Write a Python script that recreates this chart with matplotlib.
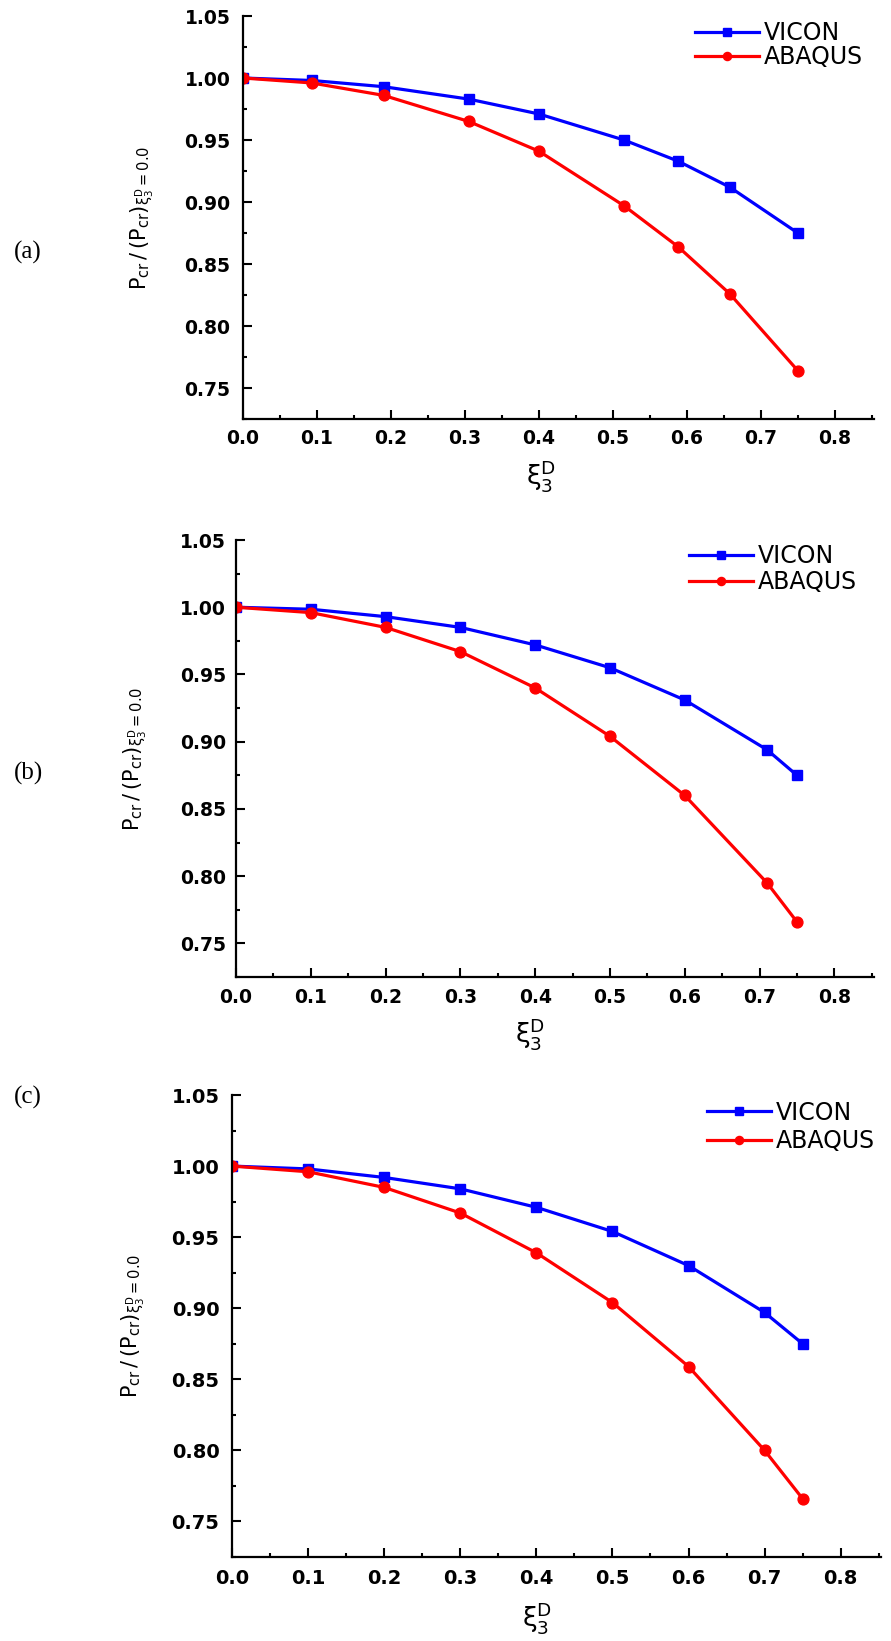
import matplotlib
matplotlib.use("Agg")
import matplotlib.pyplot as plt
from matplotlib.ticker import MultipleLocator, FormatStrFormatter

# data
x_a = [0.0, 0.093, 0.19, 0.305, 0.40, 0.515, 0.588, 0.658, 0.75]
vicon_a = [1.000, 0.998, 0.993, 0.983, 0.971, 0.950, 0.933, 0.912, 0.875]
abaqus_a = [1.000, 0.996, 0.986, 0.965, 0.941, 0.897, 0.864, 0.826, 0.764]

x_b = [0.0, 0.1, 0.2, 0.3, 0.4, 0.5, 0.6, 0.71, 0.75]
vicon_b = [1.000, 0.9985, 0.993, 0.985, 0.972, 0.955, 0.931, 0.894, 0.875]
abaqus_b = [1.000, 0.996, 0.985, 0.967, 0.940, 0.904, 0.860, 0.795, 0.766]

x_c = [0.0, 0.1, 0.2, 0.3, 0.4, 0.5, 0.6, 0.7, 0.75]
vicon_c = [1.000, 0.998, 0.992, 0.984, 0.971, 0.954, 0.930, 0.897, 0.875]
abaqus_c = [1.000, 0.996, 0.985, 0.967, 0.939, 0.904, 0.859, 0.800, 0.766]

panel_tags = ["(a)", "(b)", "(c)"]
series_names = ["VICON", "ABAQUS"]

plt.rcParams['font.family'] = ['DejaVu Sans']
plt.rcParams['mathtext.fontset'] = 'dejavusans'

W, H = 891, 1641
fig = plt.figure(figsize=(W / 100, H / 100), dpi=100)

# pixel layout: left, right, top, bottom of axes; tag y; legend anchor; row spacing
layout = [
    dict(l=243, r=874, t=16, b=419, tag_y=252, leg=(695, 45), lsp=0.02, fs=13.5, ypad=9, xpad=7.5, xl=(541, 476), yl=142),
    dict(l=236, r=874, t=540, b=977, tag_y=773, leg=(689, 569), lsp=0.10, fs=13.5, ypad=7, xpad=8, xl=(530, 1034), yl=135),
    dict(l=232, r=881, t=1095, b=1557, tag_y=1097, leg=(707, 1127), lsp=0.20, fs=14, ypad=9, xpad=9, xl=(537, 1618), yl=133),
]
data = [(x_a, vicon_a, abaqus_a), (x_b, vicon_b, abaqus_b), (x_c, vicon_c, abaqus_c)]

for k, (L, (xs, v, a)) in enumerate(zip(layout, data)):
    ax = fig.add_axes([L['l'] / W, 1 - L['b'] / H, (L['r'] - L['l']) / W, (L['b'] - L['t']) / H])
    ax.plot(xs, v, color='#0000ff', lw=2.3, marker='s', ms=7.2, label=series_names[0])
    ax.plot(xs, a, color='#ff0000', lw=2.3, marker='o', ms=7.8, label=series_names[1])

    ax.set_xlim(0, 0.853)
    ax.set_ylim(0.725, 1.05)
    ax.xaxis.set_major_locator(MultipleLocator(0.1))
    ax.xaxis.set_minor_locator(MultipleLocator(0.05))
    ax.yaxis.set_major_locator(MultipleLocator(0.05))
    ax.yaxis.set_minor_locator(MultipleLocator(0.025))
    ax.xaxis.set_major_formatter(FormatStrFormatter('%.1f'))
    ax.yaxis.set_major_formatter(FormatStrFormatter('%.2f'))

    for s in ['top', 'right']:
        ax.spines[s].set_visible(False)
    for s in ['left', 'bottom']:
        ax.spines[s].set_linewidth(1.6)
    ax.tick_params(which='both', direction='in', width=1.5)
    ax.tick_params(which='major', length=6.5)
    ax.tick_params(which='minor', length=3)
    ax.tick_params(axis='y', pad=L['ypad'])
    ax.tick_params(axis='x', pad=L['xpad'])
    for lab in ax.get_xticklabels() + ax.get_yticklabels():
        lab.set_fontweight('bold')
        lab.set_fontsize(L['fs'])

    ax.set_ylabel(r'$\mathregular{P_{cr}\,/\,(P_{cr})_{\xi_3^{D}=0.0}}$', fontsize=15, va='center')
    ax.yaxis.set_label_coords((L['yl'] - L['l']) / (L['r'] - L['l']), 0.5)
    ax.set_xlabel(r'$\mathregular{\xi_3^{D}}$', fontsize=19, va='center')
    ax.xaxis.set_label_coords((L['xl'][0] - L['l']) / (L['r'] - L['l']),
                              (L['b'] - L['xl'][1]) / (L['b'] - L['t']))

    ax.legend(loc='center left', bbox_to_anchor=(L['leg'][0] / W, 1 - L['leg'][1] / H),
              bbox_transform=fig.transFigure, frameon=False, fontsize=17,
              borderpad=0, borderaxespad=0, handlelength=2.7, handletextpad=0.2,
              labelspacing=L['lsp'], markerscale=0.75)

    fig.text(28 / W, 1 - L['tag_y'] / H, panel_tags[k], family='Liberation Serif',
             fontsize=18, ha='center', va='center')

fig.savefig('out.png', dpi=100)
